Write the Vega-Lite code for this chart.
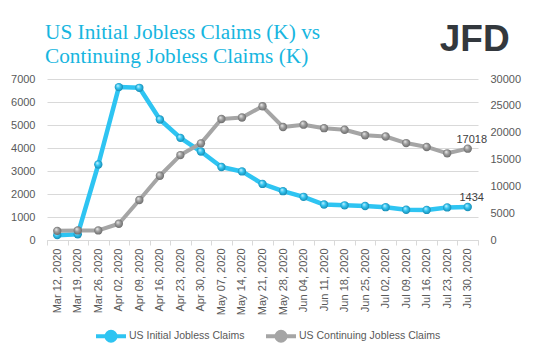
{
  "$schema": "https://vega.github.io/schema/vega-lite/v6.json",
  "width": 431,
  "height": 161,
  "autosize": "none",
  "padding": {"left": 47, "top": 79, "right": 57, "bottom": 121},
  "background": "white",
  "config": {"view": {"stroke": null}, "font": "Liberation Sans"},
  "title": {
    "text": ["US Initial Jobless Claims (K) vs", "Continuing Jobless Claims (K)"],
    "anchor": "start",
    "frame": "group",
    "font": "Liberation Serif",
    "fontSize": 21.3,
    "fontWeight": "normal",
    "color": "#17b6e0",
    "lineHeight": 23.5,
    "dx": -2,
    "offset": -46
  },
  "data": {
    "values": [
      {"date": "Mar 12, 2020", "series": "US Initial Jobless Claims", "value": 211},
      {"date": "Mar 19, 2020", "series": "US Initial Jobless Claims", "value": 251},
      {"date": "Mar 26, 2020", "series": "US Initial Jobless Claims", "value": 3283},
      {"date": "Apr 02, 2020", "series": "US Initial Jobless Claims", "value": 6648},
      {"date": "Apr 09, 2020", "series": "US Initial Jobless Claims", "value": 6616},
      {"date": "Apr 16, 2020", "series": "US Initial Jobless Claims", "value": 5237},
      {"date": "Apr 23, 2020", "series": "US Initial Jobless Claims", "value": 4442},
      {"date": "Apr 30, 2020", "series": "US Initial Jobless Claims", "value": 3846},
      {"date": "May 07, 2020", "series": "US Initial Jobless Claims", "value": 3176},
      {"date": "May 14, 2020", "series": "US Initial Jobless Claims", "value": 2981},
      {"date": "May 21, 2020", "series": "US Initial Jobless Claims", "value": 2438},
      {"date": "May 28, 2020", "series": "US Initial Jobless Claims", "value": 2123},
      {"date": "Jun 04, 2020", "series": "US Initial Jobless Claims", "value": 1877},
      {"date": "Jun 11, 2020", "series": "US Initial Jobless Claims", "value": 1542},
      {"date": "Jun 18, 2020", "series": "US Initial Jobless Claims", "value": 1508},
      {"date": "Jun 25, 2020", "series": "US Initial Jobless Claims", "value": 1480},
      {"date": "Jul 02, 2020", "series": "US Initial Jobless Claims", "value": 1427},
      {"date": "Jul 09, 2020", "series": "US Initial Jobless Claims", "value": 1314},
      {"date": "Jul 16, 2020", "series": "US Initial Jobless Claims", "value": 1307},
      {"date": "Jul 23, 2020", "series": "US Initial Jobless Claims", "value": 1416},
      {"date": "Jul 30, 2020", "series": "US Initial Jobless Claims", "value": 1434},
      {"date": "Mar 12, 2020", "series": "US Continuing Jobless Claims", "value": 1702},
      {"date": "Mar 19, 2020", "series": "US Continuing Jobless Claims", "value": 1784},
      {"date": "Mar 26, 2020", "series": "US Continuing Jobless Claims", "value": 1784},
      {"date": "Apr 02, 2020", "series": "US Continuing Jobless Claims", "value": 3029},
      {"date": "Apr 09, 2020", "series": "US Continuing Jobless Claims", "value": 7455},
      {"date": "Apr 16, 2020", "series": "US Continuing Jobless Claims", "value": 11976},
      {"date": "Apr 23, 2020", "series": "US Continuing Jobless Claims", "value": 15819},
      {"date": "Apr 30, 2020", "series": "US Continuing Jobless Claims", "value": 18011},
      {"date": "May 07, 2020", "series": "US Continuing Jobless Claims", "value": 22548},
      {"date": "May 14, 2020", "series": "US Continuing Jobless Claims", "value": 22833},
      {"date": "May 21, 2020", "series": "US Continuing Jobless Claims", "value": 24912},
      {"date": "May 28, 2020", "series": "US Continuing Jobless Claims", "value": 21052},
      {"date": "Jun 04, 2020", "series": "US Continuing Jobless Claims", "value": 21487},
      {"date": "Jun 11, 2020", "series": "US Continuing Jobless Claims", "value": 20838},
      {"date": "Jun 18, 2020", "series": "US Continuing Jobless Claims", "value": 20544},
      {"date": "Jun 25, 2020", "series": "US Continuing Jobless Claims", "value": 19522},
      {"date": "Jul 02, 2020", "series": "US Continuing Jobless Claims", "value": 19290},
      {"date": "Jul 09, 2020", "series": "US Continuing Jobless Claims", "value": 18062},
      {"date": "Jul 16, 2020", "series": "US Continuing Jobless Claims", "value": 17338},
      {"date": "Jul 23, 2020", "series": "US Continuing Jobless Claims", "value": 16151},
      {"date": "Jul 30, 2020", "series": "US Continuing Jobless Claims", "value": 17018}
    ]
  },
  "encoding": {
    "x": {
      "field": "date",
      "type": "ordinal",
      "scale": {
        "type": "band",
        "paddingInner": 0,
        "paddingOuter": 0,
        "domain": ["Mar 12, 2020", "Mar 19, 2020", "Mar 26, 2020", "Apr 02, 2020", "Apr 09, 2020", "Apr 16, 2020", "Apr 23, 2020", "Apr 30, 2020", "May 07, 2020", "May 14, 2020", "May 21, 2020", "May 28, 2020", "Jun 04, 2020", "Jun 11, 2020", "Jun 18, 2020", "Jun 25, 2020", "Jul 02, 2020", "Jul 09, 2020", "Jul 16, 2020", "Jul 23, 2020", "Jul 30, 2020"]
      },
      "axis": {
        "title": null,
        "labelAngle": -90,
        "labelAlign": "right",
        "labelBaseline": "middle",
        "labelFont": "Liberation Sans",
        "labelFontSize": 11,
        "labelColor": "#595959",
        "labelPadding": 3,
        "labelOverlap": false,
        "tickBand": "extent",
        "tickSize": 5,
        "tickColor": "#d9d9d9",
        "domainColor": "#d9d9d9",
        "grid": false
      }
    }
  },
  "layer": [
    {
      "encoding": {
        "y": {
          "field": "value",
          "type": "quantitative",
          "scale": {"domain": [0, 7000], "nice": false},
          "axis": {
            "title": null,
            "values": [0, 1000, 2000, 3000, 4000, 5000, 6000, 7000],
            "grid": true,
            "gridColor": "#d9d9d9",
            "domain": false,
            "ticks": false,
            "labelPadding": 12,
            "labelColor": "#595959",
            "labelFont": "Liberation Sans",
            "labelFontSize": 11,
            "format": "d"
          }
        }
      },
      "layer": [
        {
          "transform": [{"filter": "datum.series == 'US Initial Jobless Claims'"}],
          "mark": {"type": "line", "strokeWidth": 4.5, "strokeJoin": "round", "strokeCap": "round"},
          "encoding": {
            "color": {
              "field": "series",
              "type": "nominal",
              "scale": {"domain": ["US Initial Jobless Claims", "US Continuing Jobless Claims"], "range": ["#2ec4f2", "#a5a5a5"]},
              "legend": {
                "title": null,
                "orient": "none",
                "legendX": 47,
                "legendY": 240,
                "direction": "horizontal",
                "symbolType": "M-1,0H1M0.3,0A0.3,0.3,0,1,1,-0.3,0A0.3,0.3,0,1,1,0.3,0",
                "symbolSize": 900,
                "symbolStrokeWidth": 4,
                "labelFont": "Liberation Sans",
                "labelFontSize": 10.5,
                "labelColor": "#595959",
                "labelOffset": 1,
                "columnPadding": 13,
                "encode": {"symbols": {"update": {"fill": {"scale": "color", "field": "value"}, "fillOpacity": {"value": 1}}}}
              }
            }
          }
        },
        {
          "transform": [{"filter": "datum.series == 'US Initial Jobless Claims'"}],
          "mark": {
            "type": "circle",
            "size": 70,
            "opacity": 1,
            "fill": {"gradient": "radial", "x1": 0.35, "y1": 0.3, "r1": 0, "x2": 0.5, "y2": 0.5, "r2": 0.55,
              "stops": [{"offset": 0, "color": "#d4f5ff"}, {"offset": 0.45, "color": "#35c6f2"}, {"offset": 1, "color": "#1283aa"}]}
          }
        },
        {
          "transform": [{"filter": "datum.series == 'US Initial Jobless Claims' && datum.date == 'Jul 30, 2020'"}],
          "mark": {"type": "text", "font": "Liberation Sans", "fontSize": 11, "color": "#404040", "baseline": "alphabetic", "align": "center", "dx": 4, "dy": -6},
          "encoding": {"text": {"field": "value", "type": "quantitative", "format": "d"}}
        },
        {
          "transform": [{"filter": "datum.series == 'US Initial Jobless Claims' && datum.date == 'Jul 30, 2020'"}],
          "mark": {"type": "text", "font": "Liberation Sans", "fontWeight": "bold", "fontSize": 37, "color": "#33383d", "baseline": "alphabetic", "align": "center", "dx": 7, "clip": false},
          "encoding": {
            "y": {"datum": 8217},
            "text": {"value": "JFD"}
          }
        }
      ]
    },
    {
      "encoding": {
        "y": {
          "field": "value",
          "type": "quantitative",
          "scale": {"domain": [0, 30000], "nice": false},
          "axis": {
            "title": null,
            "orient": "right",
            "values": [0, 5000, 10000, 15000, 20000, 25000, 30000],
            "grid": false,
            "domain": false,
            "ticks": false,
            "labelPadding": 12,
            "labelColor": "#595959",
            "labelFont": "Liberation Sans",
            "labelFontSize": 11,
            "format": "d"
          }
        }
      },
      "layer": [
        {
          "transform": [{"filter": "datum.series == 'US Continuing Jobless Claims'"}],
          "mark": {"type": "line", "strokeWidth": 4, "strokeJoin": "round", "strokeCap": "round"},
          "encoding": {"color": {"field": "series", "type": "nominal"}}
        },
        {
          "transform": [{"filter": "datum.series == 'US Continuing Jobless Claims'"}],
          "mark": {
            "type": "circle",
            "size": 70,
            "opacity": 1,
            "fill": {"gradient": "radial", "x1": 0.35, "y1": 0.3, "r1": 0, "x2": 0.5, "y2": 0.5, "r2": 0.55,
              "stops": [{"offset": 0, "color": "#f2f2f2"}, {"offset": 0.45, "color": "#a0a0a0"}, {"offset": 1, "color": "#666666"}]}
          }
        },
        {
          "transform": [{"filter": "datum.series == 'US Continuing Jobless Claims' && datum.date == 'Jul 30, 2020'"}],
          "mark": {"type": "text", "font": "Liberation Sans", "fontSize": 11, "color": "#404040", "baseline": "alphabetic", "align": "center", "dx": 4, "dy": -6},
          "encoding": {"text": {"field": "value", "type": "quantitative", "format": "d"}}
        }
      ]
    }
  ],
  "resolve": {"scale": {"y": "independent"}}
}
